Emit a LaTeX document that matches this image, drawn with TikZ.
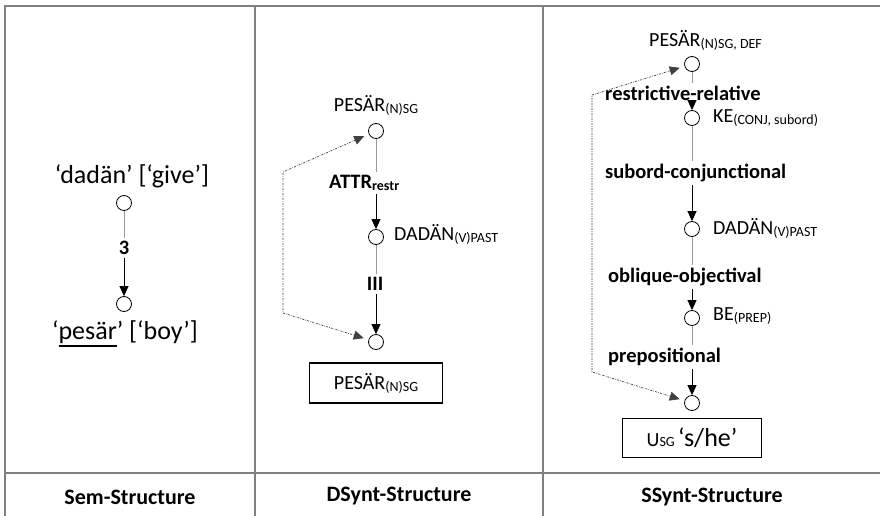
\documentclass[tikz,border=0pt]{standalone}
\usepackage{fontspec}
\setmainfont{Carlito}
\usetikzlibrary{arrows.meta}
\newcommand\lsub[1]{\raisebox{-2pt}{\fontsize{14}{14}\selectfont #1}}
\newcommand\bigtxt{\fontsize{26}{30}\selectfont}
\newcommand\lextxt{\fontsize{20}{24}\selectfont}
\newcommand\reltxt{\fontsize{20.5}{24}\selectfont\bfseries}
\newcommand\headtxt{\fontsize{22}{26}\selectfont\bfseries}
\newcommand\ulword[1]{\vtop{\hbox{#1}\kern1.5pt\hrule height 2.4pt}}
\begin{document}
\begin{tikzpicture}[x=1pt,y=-1pt,
  vertex/.style={circle,draw=black,line width=0.8pt,minimum size=15pt,inner sep=0pt},
  rel/.style={font=\reltxt,inner sep=3pt},
  lex/.style={font=\lextxt,inner sep=1pt},
  frame/.style={draw=black!50,line width=1.4pt},
  upper/.style={draw=black!40,line width=1pt},
  lower/.style={draw=black,line width=0.7pt,-{Triangle[length=10pt,width=9pt]}},
  coref/.style={draw=black!75,line width=0.7pt,dash pattern=on 2pt off 1.2pt on 0.6pt off 1.2pt,shorten <=5pt,shorten >=5pt,{Triangle[length=10pt,width=9pt]}-{Triangle[length=10pt,width=9pt]}},
  result/.style={draw=black,line width=1.4pt,inner sep=0pt}]
\useasboundingbox (0,0) rectangle (880,516);
% table
\draw[frame] (5,516) -- (5,6) -- (880,6);
\foreach \x in {255,543} \draw[frame] (\x,6) -- (\x,516);
\draw[frame] (5,473) -- (880,473);
\node[font=\headtxt] (hsem) at (130,497) {Sem-Structure};
\node[font=\headtxt] (hdsynt) at (399,496) {DSynt-Structure};
\node[font=\headtxt] (hssynt) at (712,497) {SSynt-Structure};
% Sem
\node[vertex] (s1) at (124,203) {};
\node[vertex] (s2) at (124,304) {};
\node[font=\bigtxt] (s1l) at (132,176) {‘dadän’ [‘give’]};
\node[font=\bigtxt] (s2l) at (125,334) {‘\ulword{pesär}’ [‘boy’]};
\node[rel] (s12) at (124,248) {3};
% DSynt
\node[vertex] (d1) at (376,131) {};
\node[vertex] (d2) at (376,237) {};
\node[vertex] (d3) at (376,342) {};
\node[lex] (d1l) at (376,105) {PESÄR\lsub{(N)SG}};
\node[lex,anchor=west] (d2l) at (393,234) {DADÄN\lsub{(V)PAST}};
\node[rel,anchor=west] (r12) at (326,183) {ATTR\lsub{restr}};
\node[rel] (r23) at (375,284) {III};
\node[result,minimum width=133pt,minimum height=40pt] (dbox) at (376,383) {\lextxt PESÄR\lsub{(N)SG}};
\coordinate (dtop) at (283,172);
\coordinate (dbot) at (283,313);
\draw[coref] (d1) -- (dtop) -- (dbot) -- (d3);
% SSynt
\node[vertex] (t1) at (692,64) {};
\node[vertex] (t2) at (692,118) {};
\node[vertex] (t3) at (692,229) {};
\node[vertex] (t4) at (692,318) {};
\node[vertex] (t5) at (692,403) {};
\node[lex,anchor=west] (t1l) at (648,40) {PESÄR\lsub{(N)SG, DEF}};
\node[lex,anchor=west] (t2l) at (712,118) {KE\lsub{(CONJ, subord)}};
\node[lex,anchor=west] (t3l) at (712,228) {DADÄN\lsub{(V)PAST}};
\node[lex,anchor=west] (t4l) at (712,316) {BE\lsub{(PREP)}};
\node[rel,anchor=west] (q12) at (602,93) {restrictive-relative};
\node[rel,anchor=west] (q23) at (602,173) {subord-conjunctional};
\node[rel,anchor=west] (q34) at (605,277) {oblique-objectival};
\node[rel,anchor=west] (q45) at (605,357) {prepositional};
\node[result,minimum width=139pt,minimum height=39pt] (tbox) at (692,438) {\lextxt U{\fontsize{14}{14}\selectfont SG}\,{\bigtxt ‘s/he’}};
\coordinate (ttop) at (592,95);
\coordinate (tbot) at (592,372);
\draw[coref] (t1) -- (ttop) -- (tbot) -- (t5);
% dependencies
\foreach \a/\l/\b in {s1/s12/s2, d1/r12/d2, d2/r23/d3, t1/q12/t2, t2/q23/t3, t3/q34/t4, t4/q45/t5}{
  \draw[upper] (\a) -- (\a |- \l.north);
  \draw[lower] (\a |- \l.south) -- (\b);
}
\end{tikzpicture}
\end{document}
